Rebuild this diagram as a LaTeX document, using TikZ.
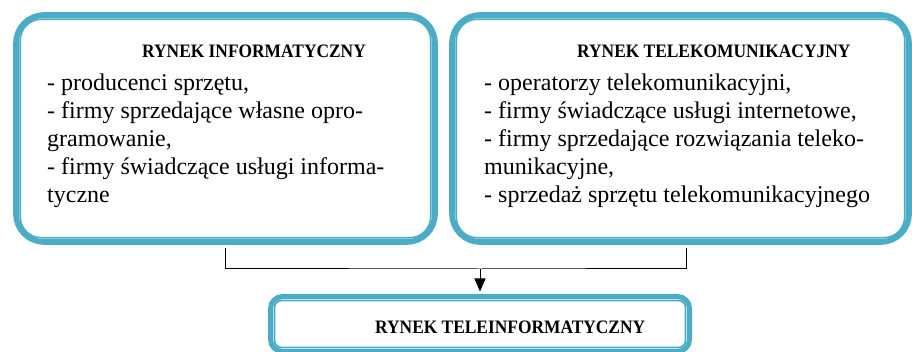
\documentclass[tikz,border=0pt]{standalone}
\usepackage{fontspec}
\usepackage{graphicx}
\setmainfont{Liberation Serif}
\usetikzlibrary{arrows.meta}
\definecolor{teal4}{HTML}{4BACC6}
\tikzset{
  outerbox/.style={draw=teal4, line width=5.6pt, fill=white, inner sep=0pt},
  innerline/.style={draw=teal4, line width=1.7pt},
  bodytxt/.style={anchor=base west, inner sep=0pt, font=\fontsize{24}{28}\selectfont},
  ttltxt/.style={anchor=base west, inner sep=0pt},
  conn/.style={draw=black, line width=1pt},
}
\newcommand{\ttl}[1]{\scalebox{0.915}[1]{\fontsize{19}{22}\selectfont\bfseries #1}}
\begin{document}
\begin{tikzpicture}[x=1pt,y=-1pt]
\useasboundingbox (0,0) rectangle (912,352);
\coordinate (j) at (480,269);
% boxes
\node[outerbox, rounded corners=28pt, minimum width=419pt, minimum height=227pt] (L) at (225.5,128.5) {};
\draw[innerline, rounded corners=21pt] ([shift={(7,7)}]L.north west) rectangle ([shift={(-7,-7)}]L.south east);
\node[outerbox, rounded corners=28pt, minimum width=457pt, minimum height=227pt] (R) at (680.5,128.5) {};
\draw[innerline, rounded corners=21pt] ([shift={(7,7)}]R.north west) rectangle ([shift={(-7,-7)}]R.south east);
\node[outerbox, line width=5pt, rounded corners=12pt, minimum width=419pt, minimum height=55pt] (B) at (480,324) {};
\draw[innerline, rounded corners=7pt] ([shift={(6.5,6.5)}]B.north west) rectangle ([shift={(-6.5,-6.5)}]B.south east);
% connectors
\draw[conn] ([yshift=-3pt]L.south) |- (j) -| ([xshift=5.5pt,yshift=-3pt]R.south);
\draw[conn, -{Triangle[length=13pt,width=11pt]}] (j) -- ([yshift=2.5pt]B.north);
% left texts
\node[ttltxt] (lt) at (142,57.7) {\ttl{RYNEK INFORMATYCZNY}};
\node[bodytxt] (l1) at (47,91) {- producenci sprzętu,};
\node[bodytxt] (l2) at (47,118.8) {- firmy sprzedające własne opro-};
\node[bodytxt] (l3) at (47,146.6) {gramowanie,};
\node[bodytxt] (l4) at (47,174.4) {- firmy świadczące usługi informa-};
\node[bodytxt] (l5) at (47,202.2) {tyczne};
% right texts
\node[ttltxt] (rt) at (577,57.7) {\ttl{RYNEK TELEKOMUNIKACYJNY}};
\node[bodytxt] (r1) at (484,91) {- operatorzy telekomunikacyjni,};
\node[bodytxt] (r2) at (484,118.8) {- firmy świadczące usługi internetowe,};
\node[bodytxt] (r3) at (484,146.6) {- firmy sprzedające rozwiązania teleko-};
\node[bodytxt] (r4) at (484,174.4) {munikacyjne,};
\node[bodytxt] (r5) at (484,202.2) {- sprzedaż sprzętu telekomunikacyjnego};
% bottom text
\node[ttltxt] (bt) at (375,333.3) {\ttl{RYNEK TELEINFORMATYCZNY}};
\end{tikzpicture}
\end{document}
